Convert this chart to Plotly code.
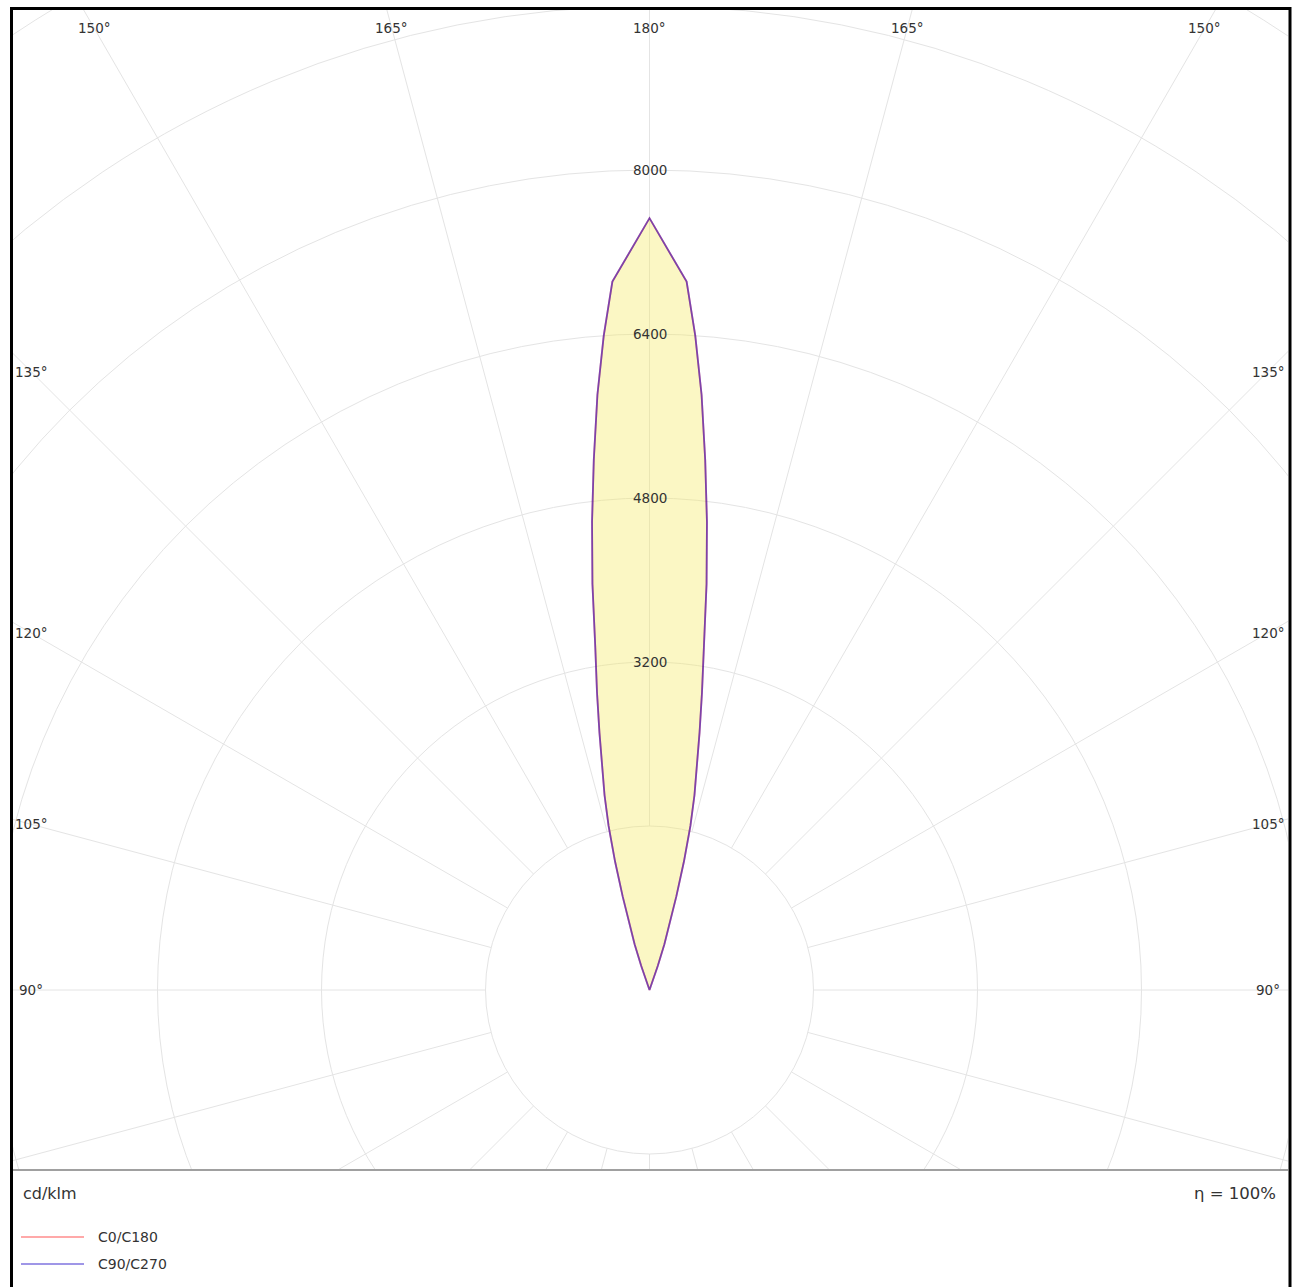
import numpy as np
import plotly.graph_objects as go

# ---------------- data (cd/klm) ----------------
GAMMA = [0, 90, 155, 160, 161, 162, 163, 164, 165, 166, 167, 168, 169, 170,
         171, 172, 173, 174, 175, 176, 177, 180]
C0_C180 = [0, 0, 0, 90, 250, 470, 690, 950, 1300, 1650, 1950, 2240, 2560, 2950,
           3380, 4000, 4600, 5200, 5830, 6400, 6920, 7530]
C90_C270 = [0, 0, 0, 90, 250, 470, 690, 950, 1300, 1650, 1950, 2240, 2560, 2950,
            3380, 4000, 4600, 5200, 5830, 6400, 6920, 7530]
SERIES_NAMES = ["C0/C180", "C90/C270"]
RADIAL_TICKS = [3200, 4800, 6400, 8000]
GRID_RADII = [1600, 3200, 4800, 6400, 8000, 9600, 11200, 12800]
ANGLE_TICKS = [90, 105, 120, 135, 150, 165, 180]
SPOKE_ANGLES = list(range(0, 360, 15))
UNIT_TEXT = "cd/klm"
ETA_TEXT = "η = 100%"

# ---------------- styling / layout ----------------
W, H = 1303, 1287
ML, MR, MT, MB = 13, 15, 10, 118
CX, CY = 649.5, 990.0          # pole position (px)
K = 8000 / 820.0               # cd/klm per pixel
FONT = "DejaVu Sans"
TXT = "#333333"
GRID = "#e4e4e4"
C0_COLOR = "rgba(255,0,0,0.45)"
C90_COLOR = "rgba(40,20,200,0.6)"
FILL = "rgba(245,235,100,0.38)"

PW = W - ML - MR
PH = H - MT - MB
x_range = [(ML - CX) * K, (W - MR - CX) * K]
y_range = [(CY - (H - MB)) * K, (CY - MT) * K]


def px2paper(px, py):
    return (px - ML) / PW, 1 - (py - MT) / PH


def curve(gamma, inten):
    g = np.radians(np.array(gamma, dtype=float))
    i = np.array(inten, dtype=float)
    xr, yr = i * np.sin(g), -i * np.cos(g)
    x = np.concatenate([xr, -xr[::-1]])
    y = np.concatenate([yr, yr[::-1]])
    return x, y


fig = go.Figure()

x0, y0 = curve(GAMMA, C0_C180)
x9, y9 = curve(GAMMA, C90_C270)

fig.add_trace(go.Scatter(x=x9, y=y9, mode="lines", fill="toself", fillcolor=FILL,
                         line=dict(width=0), hoverinfo="skip", showlegend=False))
fig.add_trace(go.Scatter(x=x0, y=y0, mode="lines", name=SERIES_NAMES[0],
                         line=dict(color=C0_COLOR, width=1.8), showlegend=False))
fig.add_trace(go.Scatter(x=x9, y=y9, mode="lines", name=SERIES_NAMES[1],
                         line=dict(color=C90_COLOR, width=1.8), showlegend=False))

shapes = []
for r in GRID_RADII:
    shapes.append(dict(type="circle", xref="x", yref="y", x0=-r, y0=-r, x1=r, y1=r,
                       line=dict(color=GRID, width=1), layer="below"))
r_in, r_out = GRID_RADII[0], 14000
for a in SPOKE_ANGLES:
    t = np.radians(a)
    shapes.append(dict(type="line", xref="x", yref="y",
                       x0=r_in * np.sin(t), y0=-r_in * np.cos(t),
                       x1=r_out * np.sin(t), y1=-r_out * np.cos(t),
                       line=dict(color=GRID, width=1), layer="below"))

# outer black frame (left, top, right)
fx0, fy0 = px2paper(11.5, 8.5)
fx1, fy1 = px2paper(1290, 1300)
shapes.append(dict(type="rect", xref="paper", yref="paper", x0=fx0, x1=fx1, y0=fy1, y1=fy0,
                   line=dict(color="#000000", width=3), layer="above"))

# manual legend lines
leg_y = [1237, 1264]
leg_colors = [C0_COLOR, C90_COLOR]
for yy, col in zip(leg_y, leg_colors):
    a0, b0 = px2paper(21, yy)
    a1, _ = px2paper(84, yy)
    shapes.append(dict(type="line", xref="paper", yref="paper", x0=a0, x1=a1, y0=b0, y1=b0,
                       line=dict(color=col, width=1.6)))

annotations = []
for r in RADIAL_TICKS:
    annotations.append(dict(x=0, y=r, xref="x", yref="y", text=str(r), showarrow=False,
                            xanchor="center", yanchor="middle",
                            font=dict(family=FONT, size=13.5, color=TXT)))

top_y = (CY - 28) * K
side_x = (CX - 31) * K
for g in ANGLE_TICKS:
    off = np.radians(180 - g)
    if g == 180:
        pts = [(0.0, top_y)]
    elif np.tan(off) * top_y <= side_x:
        pts = [(-top_y * np.tan(off), top_y), (top_y * np.tan(off), top_y)]
    else:
        yv = side_x / np.tan(off) if g != 90 else 0.0
        pts = [(-side_x, yv), (side_x, yv)]
    for (xx, yy) in pts:
        annotations.append(dict(x=xx, y=yy, xref="x", yref="y", text=f"{g}°", showarrow=False,
                                xanchor="center", yanchor="middle",
                                font=dict(family=FONT, size=13.5, color=TXT)))

ux, uy = px2paper(21, 1193)
annotations.append(dict(x=ux, y=uy, xref="paper", yref="paper", text=UNIT_TEXT, showarrow=False,
                        xanchor="left", yanchor="middle", font=dict(family=FONT, size=16, color=TXT)))
ex, ey = px2paper(1278, 1193)
annotations.append(dict(x=ex, y=ey, xref="paper", yref="paper", text=ETA_TEXT, showarrow=False,
                        xanchor="right", yanchor="middle", font=dict(family=FONT, size=16.5, color=TXT)))
for yy, name in zip(leg_y, SERIES_NAMES):
    lx, ly = px2paper(96, yy)
    annotations.append(dict(x=lx, y=ly, xref="paper", yref="paper", text=name, showarrow=False,
                            xanchor="left", yanchor="middle", font=dict(family=FONT, size=14, color=TXT)))

fig.update_layout(
    width=W, height=H,
    margin=dict(l=ML, r=MR, t=MT, b=MB, pad=0),
    paper_bgcolor="white", plot_bgcolor="white",
    showlegend=False,
    shapes=shapes, annotations=annotations,
    xaxis=dict(range=x_range, showgrid=False, zeroline=False, showticklabels=False, ticks="",
               showline=True, linecolor="#a0a0a0", linewidth=2, fixedrange=True),
    yaxis=dict(range=y_range, showgrid=False, zeroline=False, showticklabels=False, ticks="",
               showline=False, fixedrange=True),
)

fig.write_html("out.html", config={"displayModeBar": False},
               post_script="document.body.style.margin='0';document.body.style.overflow='hidden';")
